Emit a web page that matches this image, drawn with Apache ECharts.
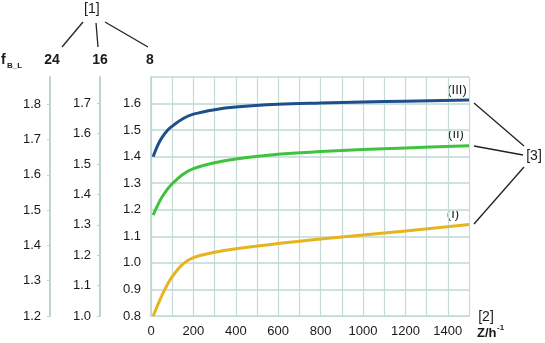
<!DOCTYPE html>
<html>
<head>
<meta charset="utf-8">
<script src="https://cdn.jsdelivr.net/npm/echarts@6/dist/echarts.min.js"></script>
<style>
html,body{margin:0;padding:0;background:#fff;}
#chart{width:545px;height:343px;}
</style>
</head>
<body>
<div id="chart"></div>
<script>
// ---- data ----
var zValues = [10, 30, 50, 75, 100, 150, 200, 300, 400, 600, 800, 1000, 1200, 1500];
var seriesIII = [1.40, 1.44, 1.47, 1.497, 1.515, 1.543, 1.560, 1.577, 1.587, 1.597, 1.602, 1.606, 1.609, 1.613];
var seriesII  = [1.18, 1.215, 1.245, 1.275, 1.298, 1.333, 1.355, 1.377, 1.391, 1.409, 1.419, 1.427, 1.433, 1.441];
var seriesI   = [0.80, 0.838, 0.875, 0.915, 0.948, 0.995, 1.020, 1.040, 1.053, 1.073, 1.090, 1.105, 1.120, 1.145];
var xTickLabels = [0, 200, 400, 600, 800, 1000, 1200, 1400];
var ticks16 = [1.0, 1.1, 1.2, 1.3, 1.4, 1.5, 1.6, 1.7];
var ticks24 = [1.2, 1.3, 1.4, 1.5, 1.6, 1.7, 1.8];
var seriesNames = ['(I)', '(II)', '(III)'];

function pairs(vals) { return zValues.map(function (z, i) { return [z, vals[i]]; }); }

var FONT = '"Liberation Sans", Arial, sans-serif';
var AXC = '#bcd5d1';
var GRIDC = '#c4dad6';
var HGRIDC = '#cfe2df';
var TXT = '#1a1a1a';

function sideAxis(gridIndex, minV, maxV, vals) {
  return {
    type: 'value', gridIndex: gridIndex, position: 'left', min: minV, max: maxV,
    axisLine: { show: true, lineStyle: { color: AXC, width: 2 } },
    axisTick: { show: true, length: 3, customValues: vals, lineStyle: { color: AXC } },
    splitLine: { show: false },
    axisLabel: { customValues: vals, margin: 9, color: TXT, fontSize: 13, fontFamily: FONT,
      formatter: function (v) { return v.toFixed(1); } }
  };
}
function hiddenX(gridIndex) {
  return { type: 'value', gridIndex: gridIndex, min: 0, max: 1, show: false };
}

var chart = echarts.init(document.getElementById('chart'), null, { renderer: 'canvas' });
chart.setOption({
  animation: false,
  backgroundColor: '#ffffff',
  grid: [
    { left: 151, right: 76, top: 77, bottom: 27, containLabel: false },
    { left: 100, width: 1, top: 77, bottom: 27, containLabel: false },
    { left: 50, width: 1, top: 77, bottom: 27, containLabel: false }
  ],
  xAxis: [
    {
      type: 'value', gridIndex: 0, min: 0, max: 1500, interval: 100,
      axisLine: { show: true, lineStyle: { color: GRIDC, width: 1.2 } },
      axisTick: { show: false },
      splitLine: { show: true, lineStyle: { color: GRIDC, width: 1.2 } },
      axisLabel: { margin: 9, color: TXT, fontSize: 13, fontFamily: FONT, showMaxLabel: false,
        formatter: function (v) { return xTickLabels.indexOf(Math.round(v)) >= 0 ? String(Math.round(v)) : ''; } }
    },
    hiddenX(1),
    hiddenX(2)
  ],
  yAxis: [
    {
      type: 'value', gridIndex: 0, min: 0.8, max: 1.7, interval: 0.1,
      axisLine: { show: true, lineStyle: { color: AXC, width: 1.5 } },
      axisTick: { show: false },
      splitLine: { show: true, lineStyle: { color: HGRIDC, width: 2 } },
      axisLabel: { margin: 10, color: TXT, fontSize: 13, fontFamily: FONT,
        formatter: function (v) { return v > 1.65 ? '' : v.toFixed(1); } }
    },
    sideAxis(1, 1.0, 1.7866, ticks16),
    sideAxis(2, 1.2, 1.877, ticks24)
  ],
  series: [
    { name: seriesNames[0], type: 'line', xAxisIndex: 0, yAxisIndex: 0, data: pairs(seriesI), smooth: 0.35, showSymbol: false,
      lineStyle: { color: '#e6b321', width: 3 } },
    { name: seriesNames[1], type: 'line', xAxisIndex: 0, yAxisIndex: 0, data: pairs(seriesII), smooth: 0.35, showSymbol: false,
      lineStyle: { color: '#3fc33f', width: 3 } },
    { name: seriesNames[2], type: 'line', xAxisIndex: 0, yAxisIndex: 0, data: pairs(seriesIII), smooth: 0.35, showSymbol: false,
      lineStyle: { color: '#1d4f8a', width: 3 } }
  ],
  graphic: [
    { type: 'text', left: 84, top: 2, style: { text: '[1]', fill: TXT, font: '14px ' + FONT } },
    { type: 'line', shape: { x1: 83, y1: 22, x2: 62, y2: 47 }, style: { stroke: '#222', lineWidth: 1.3 } },
    { type: 'line', shape: { x1: 96, y1: 23, x2: 98, y2: 47 }, style: { stroke: '#222', lineWidth: 1.3 } },
    { type: 'line', shape: { x1: 105, y1: 22, x2: 148, y2: 47 }, style: { stroke: '#222', lineWidth: 1.3 } },
    { type: 'text', x: 52, y: 60, style: { text: '24', fill: TXT, font: 'bold 14px ' + FONT, textAlign: 'center', textVerticalAlign: 'middle' } },
    { type: 'text', x: 100, y: 60, style: { text: '16', fill: TXT, font: 'bold 14px ' + FONT, textAlign: 'center', textVerticalAlign: 'middle' } },
    { type: 'text', x: 150, y: 60, style: { text: '8', fill: TXT, font: 'bold 14px ' + FONT, textAlign: 'center', textVerticalAlign: 'middle' } },
    { type: 'text', x: 1, y: 60, style: { text: 'f', fill: TXT, font: 'bold 14px ' + FONT, textAlign: 'left', textVerticalAlign: 'middle' } },
    { type: 'text', x: 7, y: 66, style: { text: 'B_L', fill: TXT, font: 'bold 8px ' + FONT, textAlign: 'left', textVerticalAlign: 'middle' } },
    { type: 'text', x: 457, y: 90, style: { text: '(III)', fill: TXT, font: '13px ' + FONT, textAlign: 'center', textVerticalAlign: 'middle' } },
    { type: 'text', x: 456, y: 134, style: { text: '(II)', fill: TXT, font: '13px ' + FONT, textAlign: 'center', textVerticalAlign: 'middle' } },
    { type: 'text', x: 453, y: 214, style: { text: '(I)', fill: TXT, font: '13px ' + FONT, textAlign: 'center', textVerticalAlign: 'middle' } },
    { type: 'text', x: 534, y: 156, style: { text: '[3]', fill: TXT, font: '14px ' + FONT, textAlign: 'center', textVerticalAlign: 'middle' } },
    { type: 'line', shape: { x1: 474, y1: 103, x2: 524, y2: 146 }, style: { stroke: '#222', lineWidth: 1.3 } },
    { type: 'line', shape: { x1: 474, y1: 146, x2: 523, y2: 155 }, style: { stroke: '#222', lineWidth: 1.3 } },
    { type: 'line', shape: { x1: 474, y1: 224, x2: 524, y2: 167 }, style: { stroke: '#222', lineWidth: 1.3 } },
    { type: 'text', x: 486, y: 317, style: { text: '[2]', fill: TXT, font: '14px ' + FONT, textAlign: 'center', textVerticalAlign: 'middle' } },
    { type: 'text', x: 477, y: 333, style: { text: 'Z/h', fill: TXT, font: 'bold 13px ' + FONT, textAlign: 'left', textVerticalAlign: 'middle' } },
    { type: 'text', x: 497, y: 328, style: { text: '-1', fill: TXT, font: 'bold 8px ' + FONT, textAlign: 'left', textVerticalAlign: 'middle' } }
  ]
});
</script>
</body>
</html>
